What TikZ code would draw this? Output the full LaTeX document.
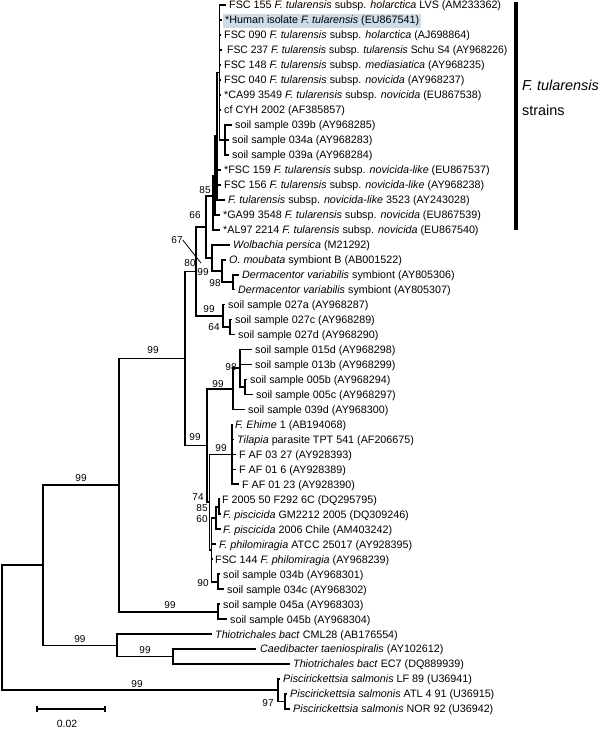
\documentclass[tikz,border=0pt]{standalone}
\usepackage{fontspec}
\setmainfont{Liberation Sans}
\definecolor{hlblue}{RGB}{204,220,232}
\newcommand\rowy[1]{5+(#1-1)*14.98}
\newcommand\leaf[5]{%
  \coordinate (#1) at (#2,{\rowy{#4}});
  \node[lab] (#1-t) at (#3,{\rowy{#4}+3.85}) {#5};}
\newcommand\br[2]{\draw[branch] (#1) |- (#2);}
\begin{document}
\begin{tikzpicture}[x=1pt,y=-1pt,
  lab/.style={anchor=base west,inner sep=0pt,font=\fontsize{10.75}{12}\selectfont},
  bs/.style={inner sep=0pt,font=\fontsize{10}{11}\selectfont},
  branch/.style={line width=1.75pt},
  bigtxt/.style={anchor=base west,inner sep=0pt,font=\fontsize{14.4}{16}\selectfont}]
\useasboundingbox (0,0) rectangle (600,730);
% ---------- leaves ----------
\leaf{l1}{226}{229}{1}{FSC 155 \textit{F. tularensis} subsp. \textit{holarctica} LVS (AM233362)}
\coordinate (l2) at (222,{\rowy{2}});
\node[lab,fill=hlblue,inner xsep=2pt,inner ysep=1.6pt,text height=8pt,text depth=2.4pt] (l2-t) at (223,{\rowy{2}+3.85}) {*Human isolate \textit{F. tularensis} (EU867541)};
\leaf{l3}{221}{224}{3}{FSC 090 \textit{F. tularensis} subsp. \textit{holarctica} (AJ698864)}
\leaf{l4}{222}{227}{4}{\scalebox{0.965}[1]{FSC 237 \textit{F. tularensis} subsp. \textit{tularensis} Schu S4 (AY968226)}}
\leaf{l5}{221}{224}{5}{FSC 148 \textit{F. tularensis} subsp. \textit{mediasiatica} (AY968235)}
\leaf{l6}{221}{224}{6}{FSC 040 \textit{F. tularensis} subsp. \textit{novicida} (AY968237)}
\leaf{l7}{221}{224}{7}{*CA99 3549 \textit{F. tularensis} subsp. \textit{novicida} (EU867538)}
\leaf{l8}{221}{224}{8}{cf CYH 2002 (AF385857)}
\leaf{l9}{232}{235}{9}{soil sample 039b (AY968285)}
\leaf{l10}{229}{232}{10}{soil sample 034a (AY968283)}
\leaf{l11}{229}{232}{11}{soil sample 039a (AY968284)}
\leaf{l12}{221}{224}{12}{*FSC 159 \textit{F. tularensis} subsp. \textit{novicida-like} (EU867537)}
\leaf{l13}{221}{224}{13}{FSC 156 \textit{F. tularensis} subsp. \textit{novicida-like} (AY968238)}
\leaf{l14}{225}{228}{14}{\textit{F. tularensis} subsp. \textit{novicida-like} 3523 (AY243028)}
\leaf{l15}{220}{223}{15}{*GA99 3548 \textit{F. tularensis} subsp. \textit{novicida} (EU867539)}
\leaf{l16}{220}{223}{16}{*AL97 2214 \textit{F. tularensis} subsp. \textit{novicida} (EU867540)}
\leaf{l17}{230}{233}{17}{\textit{Wolbachia persica} (M21292)}
\leaf{l18}{226}{229}{18}{\textit{O. moubata} symbiont B (AB001522)}
\leaf{l19}{239}{242}{19}{\textit{Dermacentor variabilis} symbiont (AY805306)}
\leaf{l20}{235}{238}{20}{\textit{Dermacentor variabilis} symbiont (AY805307)}
\leaf{l21}{225}{228}{21}{soil sample 027a (AY968287)}
\leaf{l22}{232}{235}{22}{soil sample 027c (AY968289)}
\leaf{l23}{235}{238}{23}{soil sample 027d (AY968290)}
\leaf{l24}{252}{255}{24}{soil sample 015d (AY968298)}
\leaf{l25}{252}{255}{25}{soil sample 013b (AY968299)}
\leaf{l26}{247}{250}{26}{soil sample 005b (AY968294)}
\leaf{l27}{253}{256}{27}{soil sample 005c (AY968297)}
\leaf{l28}{245}{248}{28}{soil sample 039d (AY968300)}
\leaf{l29}{233}{235}{29}{\textit{F. Ehime} 1 (AB194068)}
\leaf{l30}{234}{237}{30}{\textit{Tilapia} parasite TPT 541 (AF206675)}
\leaf{l31}{236}{239}{31}{F AF 03 27 (AY928393)}
\leaf{l32}{236}{239}{32}{F AF 01 6 (AY928389)}
\leaf{l33}{239}{242}{33}{F AF 01 23 (AY928390)}
\leaf{l34}{220}{222}{34}{F 2005 50 F292 6C (DQ295795)}
\leaf{l35}{220.5}{223}{35}{\textit{F. piscicida} GM2212 2005 (DQ309246)}
\leaf{l36}{220.5}{223}{36}{\textit{F. piscicida} 2006 Chile (AM403242)}
\leaf{l37}{216}{219}{37}{\textit{F. philomiragia} ATCC 25017 (AY928395)}
\leaf{l38}{212.5}{215}{38}{FSC 144 \textit{F. philomiragia} (AY968239)}
\leaf{l39}{220}{223}{39}{soil sample 034b (AY968301)}
\leaf{l40}{224}{227}{40}{soil sample 034c (AY968302)}
\leaf{l41}{220}{223}{41}{soil sample 045a (AY968303)}
\leaf{l42}{227}{230}{42}{soil sample 045b (AY968304)}
\leaf{l43}{212}{215}{43}{\textit{Thiotrichales bact} CML28 (AB176554)}
\leaf{l44}{256}{260}{44}{\textit{Caedibacter taeniospiralis} (AY102612)}
\leaf{l45}{290}{293}{45}{\textit{Thiotrichales bact} EC7 (DQ889939)}
\leaf{l46}{280}{283}{46}{\textit{Piscirickettsia salmonis} LF 89 (U36941)}
\leaf{l47}{287}{290}{47}{\textit{Piscirickettsia salmonis} ATL 4 91 (U36915)}
\leaf{l48}{290}{293}{48}{\textit{Piscirickettsia salmonis} NOR 92 (U36942)}
% ---------- internal nodes ----------
\coordinate (root) at (2,627.8);
\coordinate (PS) at (278,690.3);
\coordinate (PS2) at (285,701.6);
\coordinate (A) at (43,565.2);
\coordinate (B) at (119,485.1);
\coordinate (Thio) at (117,645.4);
\coordinate (Cd) at (173,656.6);
\coordinate (F45) at (218,611.7);
\coordinate (C) at (185,358.4);
\coordinate (D) at (196,271.4);
\coordinate (K) at (206,226.9);
\coordinate (T) at (213,196);
\coordinate (N1) at (215,175.4);
\coordinate (N2) at (217,136);
\coordinate (N3) at (219.5,72.4);
\coordinate (Sn) at (225,139.8);
\coordinate (W) at (212,257.8);
\coordinate (M) at (222,270.9);
\coordinate (Dm) at (233,282.1);
\coordinate (P) at (223,315.8);
\coordinate (Q) at (230,327.1);
\coordinate (E) at (207,445.5);
\coordinate (R) at (233,388.9);
\coordinate (S) at (240,368.3);
\coordinate (U) at (245,387);
\coordinate (X) at (209.5,502.2);
\coordinate (V) at (232,454.4);
\coordinate (Y) at (211.5,549.9);
\coordinate (Z) at (216,518);
\coordinate (W2) at (219,506.8);
\coordinate (S34) at (218,581.7);
% ---------- branches ----------
\br{root}{A}\br{root}{PS}
\br{PS}{l46}\br{PS}{PS2}\br{PS2}{l47}\br{PS2}{l48}
\br{A}{B}\br{A}{Thio}
\br{Thio}{l43}\br{Thio}{Cd}\br{Cd}{l44}\br{Cd}{l45}
\br{B}{C}\br{B}{F45}\br{F45}{l41}\br{F45}{l42}
\br{C}{D}\br{C}{E}
\br{D}{K}\br{D}{P}
\br{P}{l21}\br{P}{Q}\br{Q}{l22}\br{Q}{l23}
\br{K}{T}\br{K}{W}
\br{W}{l17}\br{W}{M}\br{M}{l18}\br{M}{Dm}\br{Dm}{l19}\br{Dm}{l20}
\br{T}{N1}\br{T}{l16}
\br{N1}{N2}\br{N1}{l15}
\br{N2}{N3}\br{N2}{l12}\br{N2}{l13}\br{N2}{l14}
\br{N3}{l1}\br{N3}{l2}\br{N3}{l3}\br{N3}{l4}\br{N3}{l5}\br{N3}{l6}\br{N3}{l7}\br{N3}{l8}\br{N3}{Sn}
\br{Sn}{l9}\br{Sn}{l10}\br{Sn}{l11}
\br{E}{R}\br{E}{X}
\br{R}{S}\br{R}{l28}
\br{S}{l24}\br{S}{l25}\br{S}{U}\br{U}{l26}\br{U}{l27}
\br{X}{V}\br{X}{Y}
\br{V}{l29}\br{V}{l30}\br{V}{l31}\br{V}{l32}\br{V}{l33}
\br{Y}{Z}\br{Y}{l37}\br{Y}{l38}\br{Y}{S34}
\br{Z}{W2}\br{Z}{l36}\br{W2}{l34}\br{W2}{l35}
\br{S34}{l39}\br{S34}{l40}
% ---------- bootstrap values ----------
\node[bs] (s1) at (137,684) {99};
\node[bs] (s2) at (268,703) {97};
\node[bs] (s3) at (81,478) {99};
\node[bs] (s4) at (80,639) {99};
\node[bs] (s5) at (145,650) {99};
\node[bs] (s6) at (170,605) {99};
\node[bs] (s7) at (153,350) {99};
\node[bs] (s8) at (190,263) {80};
\node[bs] (s9) at (195,215) {66};
\node[bs] (s10) at (177,240) {67};
\coordinate (s10e) at (201,263);
\draw[line width=0.8pt] (s10.east) -- (s10e);
\node[bs] (s11) at (203,272) {99};
\node[bs] (s12) at (215,283) {98};
\node[bs] (s13) at (209,309) {99};
\node[bs] (s14) at (214,327) {64};
\node[bs] (s15) at (218,384) {99};
\node[bs] (s16) at (231,367) {98};
\node[bs] (s17) at (195,437) {99};
\node[bs] (s18) at (221,448) {99};
\node[bs] (s19) at (198,497) {74};
\node[bs] (s20) at (202,508) {85};
\node[bs] (s21) at (202,519) {60};
\node[bs] (s22) at (203,583) {90};
\node[bs] (s23) at (205,190) {85};
% ---------- scale bar ----------
\coordinate (sb1) at (37,709);
\coordinate (sb2) at (105,709);
\draw[line width=1.75pt] (sb1) -- (sb2);
\draw[line width=1.75pt] ([yshift=3.2pt]sb1) -- ([yshift=-3.2pt]sb1);
\draw[line width=1.75pt] ([yshift=3.2pt]sb2) -- ([yshift=-3.2pt]sb2);
\node[bs,font=\fontsize{10.5}{12}\selectfont] (sbt) at (67,723.5) {0.02};
% ---------- group bar ----------
\coordinate (g1) at (516,1.7);
\coordinate (g2) at (516,230);
\draw[line width=3.5pt] (g1) -- (g2);
\node[bigtxt] (gt1) at (522,91) {\textit{F. tularensis}};
\node[bigtxt] (gt2) at (522,116) {strains};
\end{tikzpicture}
\end{document}
